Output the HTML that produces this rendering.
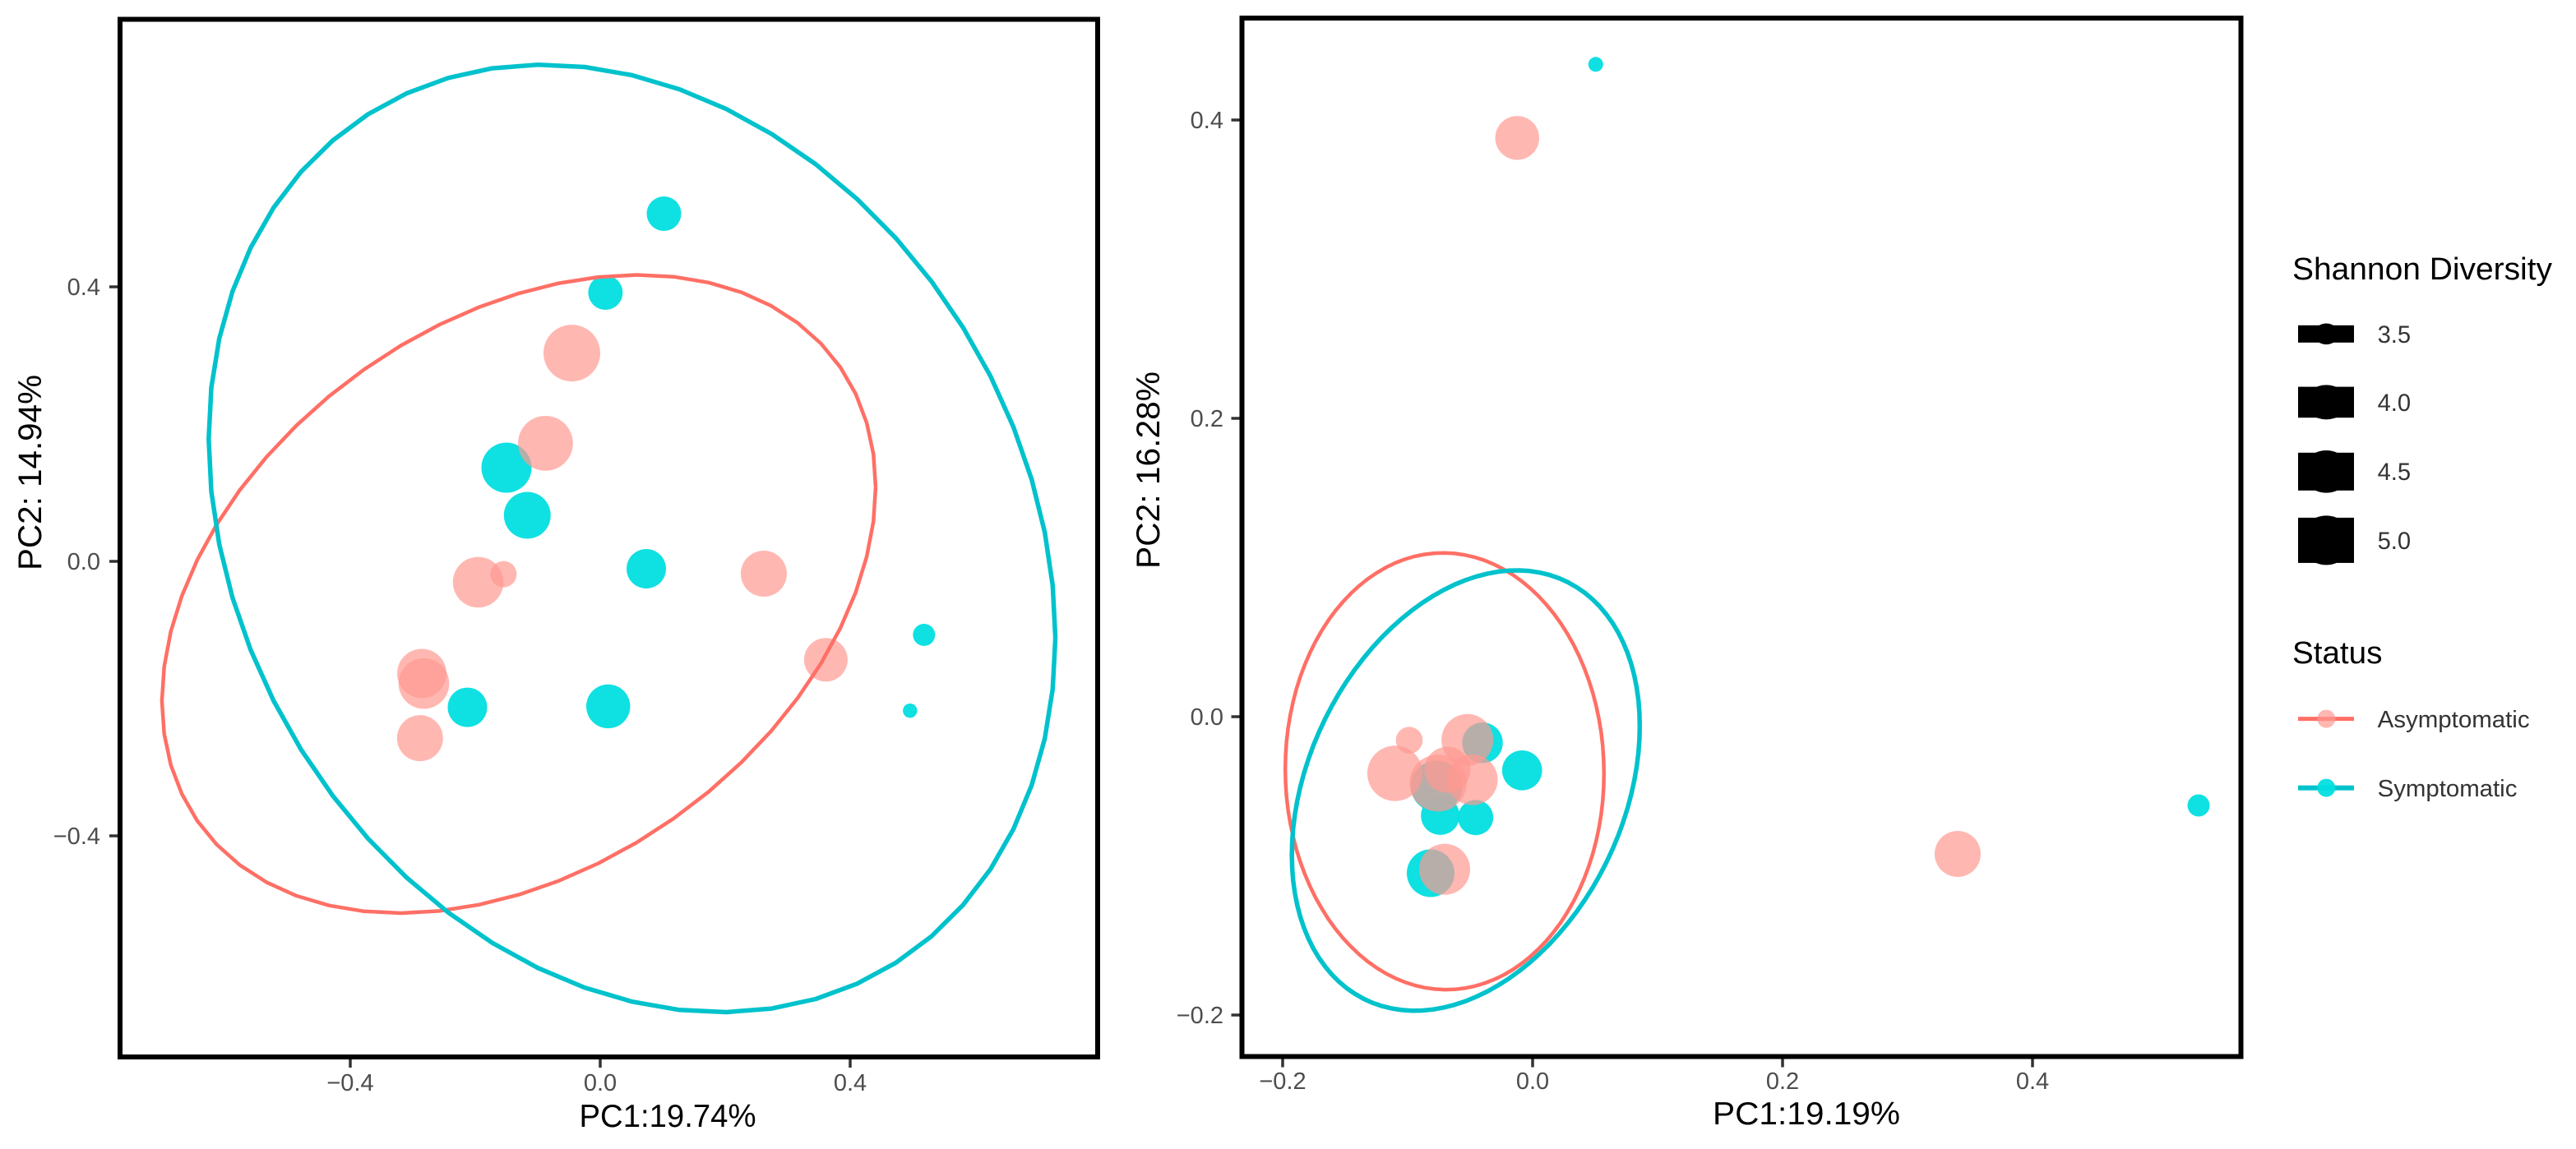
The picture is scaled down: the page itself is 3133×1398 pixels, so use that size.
<!DOCTYPE html>
<html lang="en">
<head>
<meta charset="utf-8">
<title>PCoA plots by status and Shannon diversity</title>
<style>
html,body{margin:0;padding:0;background:#fff;width:3133px;height:1398px;overflow:hidden}
svg{display:block}
text{font-family:"Liberation Sans",sans-serif}
</style>
</head>
<body>
<svg id="chart" xmlns="http://www.w3.org/2000/svg" width="3133" height="1398" viewBox="0 0 3133 1398">
  <rect x="0" y="0" width="3133" height="1398" fill="#ffffff"/>
  <g id="panel-left"></g>
  <g id="panel-right"></g>

  <g>
    <text x="2788" y="340" font-size="38" fill="#000" textLength="316" lengthAdjust="spacingAndGlyphs">Shannon Diversity</text>
    <g>
      <rect x="2795" y="395.8" width="68" height="21" fill="#000"/>
      <ellipse cx="2829.3" cy="406.3" rx="15" ry="12.8" fill="#000"/>
      <text x="2891.6" y="417" font-size="30" fill="#333" textLength="40.5" lengthAdjust="spacingAndGlyphs">3.5</text>
    </g>
    <g>
      <rect x="2795" y="470.6" width="68" height="37.6" fill="#000"/>
      <ellipse cx="2829.3" cy="489.4" rx="26" ry="21" fill="#000"/>
      <text x="2891.6" y="500" font-size="30" fill="#333" textLength="40.5" lengthAdjust="spacingAndGlyphs">4.0</text>
    </g>
    <g>
      <rect x="2795" y="550.8" width="68" height="46" fill="#000"/>
      <ellipse cx="2829.3" cy="573.8" rx="29" ry="25.8" fill="#000"/>
      <text x="2891.6" y="584" font-size="30" fill="#333" textLength="40.5" lengthAdjust="spacingAndGlyphs">4.5</text>
    </g>
    <g>
      <rect x="2795" y="629.9" width="68" height="55" fill="#000"/>
      <ellipse cx="2829.3" cy="657.4" rx="31" ry="30" fill="#000"/>
      <text x="2891.6" y="668" font-size="30" fill="#333" textLength="40.5" lengthAdjust="spacingAndGlyphs">5.0</text>
    </g>
  </g>

  <g>
    <text x="2788" y="807" font-size="38" fill="#000" textLength="109.4" lengthAdjust="spacingAndGlyphs">Status</text>
    <g>
      <line x1="2795" x2="2863" y1="874.6" y2="874.6" stroke="#FF6F65" stroke-width="5"/>
      <circle cx="2829.3" cy="874.6" r="11" fill="rgba(255,152,146,0.7)"/>
      <text x="2891.6" y="885" font-size="29" fill="#333" textLength="185" lengthAdjust="spacingAndGlyphs">Asymptomatic</text>
    </g>
    <g>
      <line x1="2795" x2="2863" y1="958.6" y2="958.6" stroke="#00C2CC" stroke-width="6"/>
      <circle cx="2829.3" cy="958.6" r="11" fill="rgba(0,222,224,0.94)"/>
      <text x="2891.6" y="969" font-size="29" fill="#333" textLength="169.8" lengthAdjust="spacingAndGlyphs">Symptomatic</text>
    </g>
  </g>
</svg>

<script>
// ---- Left panel data ----
const leftXTicks = [-0.4, 0, 0.4];
const leftYTicks = [-0.4, 0, 0.4];
const leftAsymptomaticX = [-0.0454, -0.0876, -0.1953, -0.1547, -0.2855, -0.2822, -0.2884, 0.2618, 0.3611];
const leftAsymptomaticY = [0.3035, 0.172, -0.0304, -0.0187, -0.1634, -0.178, -0.2577, -0.018, -0.1434];
const leftAsymptomaticShannon = [5.583, 5.416, 5.042, 3.489, 4.933, 5.042, 4.673, 4.673, 4.489];
const leftSymptomaticX = [-0.15, -0.1167, 0.0084, 0.102, -0.2125, 0.0128, 0.0737, 0.5182, 0.4958];
const leftSymptomaticY = [0.1365, 0.0671, 0.3916, 0.5066, -0.2127, -0.2113, -0.0108, -0.1071, -0.2176];
const leftSymptomaticShannon = [5.0, 4.736, 3.904, 3.904, 4.206, 4.514, 4.206, 3.323, 3.085];
// ellipse: centre x, centre y, half width, half height, tilt (correlation)
const leftAsymptomaticEllipse = [-0.1303, -0.0476, 0.5711, 0.465, 0.335];
const leftSymptomaticEllipse = [0.0509, 0.0334, 0.6775, 0.6904, -0.21];

// ---- Right panel data ----
const rightXTicks = [-0.2, 0, 0.2, 0.4];
const rightYTicks = [-0.2, 0, 0.2, 0.4];
const rightAsymptomaticX = [-0.0987, -0.1101, -0.0522, -0.0482, -0.0682, -0.0757, -0.0704, -0.0123, 0.3401];
const rightAsymptomaticY = [-0.0158, -0.038, -0.0156, -0.0423, -0.0356, -0.0445, -0.1023, 0.388, -0.092];
const rightAsymptomaticShannon = [3.511, 5.461, 5.14, 5.042, 4.673, 5.615, 5.07, 4.514, 4.673];
const rightSymptomaticX = [-0.0768, -0.0401, -0.0084, -0.0456, -0.0739, -0.0816, 0.5329, 0.0505];
const rightSymptomaticY = [-0.0467, -0.0175, -0.036, -0.0676, -0.0663, -0.1049, -0.0595, 0.4373];
const rightSymptomaticShannon = [5.112, 4.283, 4.239, 3.951, 4.153, 4.801, 3.323, 3.097];
const rightAsymptomaticEllipse = [-0.0704, -0.0366, 0.1275, 0.1464, -0.01];
const rightSymptomaticEllipse = [-0.05345, -0.0495, 0.1392, 0.1476, 0.293];

const SVGNS = 'http://www.w3.org/2000/svg';
const TEAL_LINE = '#00C2CC';
const PINK_LINE = '#FF6F65';
const TEAL_FILL = 'rgba(0,222,224,0.94)';
const PINK_FILL = 'rgba(255,152,146,0.7)';

function make(tag, attrs, parent) {
  const el = document.createElementNS(SVGNS, tag);
  for (const k in attrs) el.setAttribute(k, attrs[k]);
  parent.appendChild(el);
  return el;
}

function shannonRadius(s) {
  return Math.sqrt(Math.max(s - 2.915, 0) * 446);
}

function tickText(v) {
  const t = Math.abs(v).toFixed(1);
  return v < 0 ? '\u2212' + t : t;
}

function ellipsePoints(params, xScale, yScale, segments) {
  const [cx, cy, hw, hh, rho] = params;
  const pts = [];
  const q = Math.sqrt(1 - rho * rho);
  for (let i = 0; i <= segments; i++) {
    const t = 2 * Math.PI * i / segments;
    const dx = hw * Math.cos(t);
    const dy = hh * (rho * Math.cos(t) + q * Math.sin(t));
    pts.push(xScale(cx + dx).toFixed(1) + ',' + yScale(cy + dy).toFixed(1));
  }
  return pts.join(' ');
}

function drawPanel(root, cfg) {
  const xScale = v => cfg.x0 + v * cfg.xUnit;
  const yScale = v => cfg.y0 - v * cfg.yUnit;

  // points: symptomatic first, asymptomatic on top
  const teal = make('g', {}, root);
  
  
  cfg.symX.forEach((v, i) => {
    const c = make('circle', { cx: xScale(v), cy: yScale(cfg.symY[i]), r: shannonRadius(cfg.symS[i]), fill: TEAL_FILL }, teal);
    
    
  });
  const pink = make('g', {}, root);
  
  
  cfg.asyX.forEach((v, i) => {
    const c = make('circle', { cx: xScale(v), cy: yScale(cfg.asyY[i]), r: shannonRadius(cfg.asyS[i]), fill: PINK_FILL }, pink);
    
    
  });

  // confidence ellipses
  const e1 = make('polyline', { points: ellipsePoints(cfg.asyEllipse, xScale, yScale, cfg.segments), fill: 'none', stroke: PINK_LINE, 'stroke-width': 4.5, 'stroke-linejoin': 'round' }, root);
  
  
  const e2 = make('polyline', { points: ellipsePoints(cfg.symEllipse, xScale, yScale, cfg.segments), fill: 'none', stroke: TEAL_LINE, 'stroke-width': 5.5, 'stroke-linejoin': 'round' }, root);
  
  

  // panel frame
  const frame = make('rect', { x: cfg.left, y: cfg.top, width: cfg.right - cfg.left, height: cfg.bottom - cfg.top, fill: 'none', stroke: '#000', 'stroke-width': 6 }, root);
  
  

  // x axis
  cfg.xTicks.forEach(v => {
    const px = xScale(v);
    const tick = make('line', { x1: px, x2: px, y1: cfg.bottom + 3, y2: cfg.bottom + 13, stroke: '#333', 'stroke-width': 3.5 }, root);
    
    
    const lab = make('text', { x: px, y: cfg.xLabelY, 'font-size': 29, fill: '#4d4d4d', 'text-anchor': 'middle' }, root);
    lab.textContent = tickText(v);
    
    
  });

  // y axis
  cfg.yTicks.forEach(v => {
    const py = yScale(v);
    const tick = make('line', { x1: cfg.left - 3, x2: cfg.left - 13, y1: py, y2: py, stroke: '#333', 'stroke-width': 3.5 }, root);
    
    
    const lab = make('text', { x: cfg.yLabelX, y: py + 10, 'font-size': 29, fill: '#4d4d4d', 'text-anchor': 'end' }, root);
    lab.textContent = tickText(v);
    
    
  });

  // axis titles
  const xt = make('text', { x: cfg.xTitleX, y: cfg.xTitleY, 'font-size': 39, fill: '#000', 'text-anchor': 'middle', textLength: cfg.xTitleLen, lengthAdjust: 'spacingAndGlyphs' }, root);
  xt.textContent = cfg.xTitle;
  
  
  const yt = make('text', { transform: 'translate(' + cfg.yTitleX + ' ' + cfg.yTitleY + ') rotate(-90)', 'font-size': 40, fill: '#000', 'text-anchor': 'middle', textLength: cfg.yTitleLen, lengthAdjust: 'spacingAndGlyphs' }, root);
  yt.textContent = cfg.yTitle;
  
  
}

drawPanel(document.getElementById('panel-left'), {
  left: 146, right: 1335, top: 23.5, bottom: 1286,
  x0: 730, xUnit: 760, y0: 683, yUnit: 835, segments: 56,
  xTicks: leftXTicks, yTicks: leftYTicks,
  asyX: leftAsymptomaticX, asyY: leftAsymptomaticY, asyS: leftAsymptomaticShannon,
  symX: leftSymptomaticX, symY: leftSymptomaticY, symS: leftSymptomaticShannon,
  asyEllipse: leftAsymptomaticEllipse, symEllipse: leftSymptomaticEllipse,
  xLabelY: 1327, yLabelX: 122,
  xTitle: 'PC1:19.74%', xTitleX: 812, xTitleY: 1371, xTitleLen: 215,
  yTitle: 'PC2: 14.94%', yTitleX: 50, yTitleY: 575, yTitleLen: 238
});

drawPanel(document.getElementById('panel-right'), {
  left: 1510.5, right: 2725.5, top: 22, bottom: 1285.5,
  x0: 1864, xUnit: 1520, y0: 872, yUnit: 1815, segments: 100,
  xTicks: rightXTicks, yTicks: rightYTicks,
  asyX: rightAsymptomaticX, asyY: rightAsymptomaticY, asyS: rightAsymptomaticShannon,
  symX: rightSymptomaticX, symY: rightSymptomaticY, symS: rightSymptomaticShannon,
  asyEllipse: rightAsymptomaticEllipse, symEllipse: rightSymptomaticEllipse,
  xLabelY: 1325, yLabelX: 1488,
  xTitle: 'PC1:19.19%', xTitleX: 2197, xTitleY: 1368, xTitleLen: 228,
  yTitle: 'PC2: 16.28%', yTitleX: 1410, yTitleY: 572, yTitleLen: 240
});
</script>
</body>
</html>
